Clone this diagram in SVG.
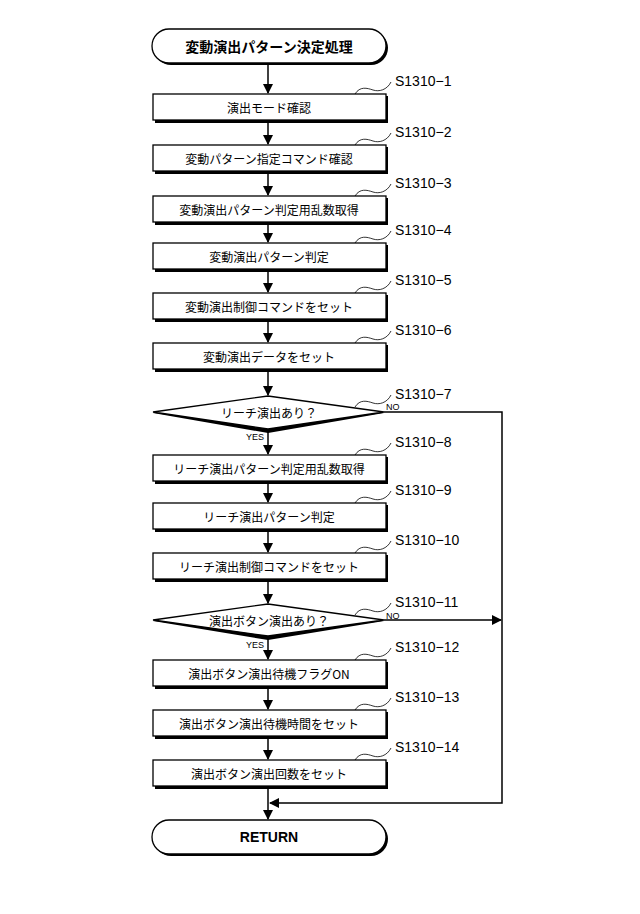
<svg xmlns="http://www.w3.org/2000/svg" width="640" height="914" viewBox="0 0 640 914">
<defs>
<style>
.b{fill:#fff;stroke:#000;stroke-width:1.3}
.s{fill:#000}
.t{font-family:"Noto Sans CJK JP","Liberation Sans",sans-serif;font-size:12px;text-anchor:middle;dominant-baseline:central}
.l{font-family:"Liberation Sans","Noto Sans CJK JP",sans-serif;font-size:14px}
.y{font-family:"Liberation Sans",sans-serif;font-size:9px}
.c{fill:none;stroke:#000;stroke-width:1.5}
.q{fill:none;stroke:#000;stroke-width:0.8}
</style>
<marker id="a" markerWidth="10" markerHeight="10" refX="9" refY="5" orient="auto" markerUnits="userSpaceOnUse"><path d="M0,0 L10,5 L0,10 z"/></marker>
</defs>
<rect width="640" height="914" fill="#fff"/>
<g id="connectors">
<line class="c" x1="268" y1="64" x2="268" y2="93" marker-end="url(#a)"/>
<line class="c" x1="268" y1="122" x2="268" y2="144" marker-end="url(#a)"/>
<line class="c" x1="268" y1="173" x2="268" y2="195" marker-end="url(#a)"/>
<line class="c" x1="268" y1="223" x2="268" y2="242" marker-end="url(#a)"/>
<line class="c" x1="268" y1="270" x2="268" y2="292" marker-end="url(#a)"/>
<line class="c" x1="268" y1="321" x2="268" y2="342" marker-end="url(#a)"/>
<line class="c" x1="268" y1="371" x2="268" y2="395" marker-end="url(#a)"/>
<line class="c" x1="268" y1="431" x2="268" y2="454" marker-end="url(#a)"/>
<line class="c" x1="268" y1="482" x2="268" y2="502" marker-end="url(#a)"/>
<line class="c" x1="268" y1="530" x2="268" y2="552" marker-end="url(#a)"/>
<line class="c" x1="268" y1="580" x2="268" y2="603" marker-end="url(#a)"/>
<line class="c" x1="268" y1="637" x2="268" y2="659" marker-end="url(#a)"/>
<line class="c" x1="268" y1="687" x2="268" y2="709" marker-end="url(#a)"/>
<line class="c" x1="268" y1="737" x2="268" y2="759" marker-end="url(#a)"/>
<line class="c" x1="268" y1="788" x2="268" y2="819" marker-end="url(#a)"/>
<polyline class="c" points="384,412 502,412 502,803 270,803" marker-end="url(#a)"/>
<line class="c" x1="384" y1="620" x2="501" y2="620" marker-end="url(#a)"/>
<text class="y" x="386" y="410">NO</text>
<text class="y" x="386" y="619">NO</text>
<text class="y" x="246" y="440">YES</text>
<text class="y" x="246" y="648">YES</text>
</g>
<g id="start"><rect class="s" x="154" y="31" width="234" height="34" rx="17"/><rect class="b" x="152" y="29" width="234" height="34" rx="17"/><text class="t" x="269" y="46" style="font-size:14px;font-weight:bold">変動演出パターン決定処理</text></g>
<g id="n1"><rect class="s" x="155" y="96" width="233" height="27"/><rect class="b" x="153" y="94" width="233" height="26"/><text class="t" x="269" y="107">演出モード確認</text></g>
<g id="n2"><rect class="s" x="155" y="147" width="233" height="27"/><rect class="b" x="153" y="145" width="233" height="26"/><text class="t" x="269" y="158">変動パターン指定コマンド確認</text></g>
<g id="n3"><rect class="s" x="155" y="198" width="233" height="27"/><rect class="b" x="153" y="196" width="233" height="26"/><text class="t" x="269" y="209">変動演出パターン判定用乱数取得</text></g>
<g id="n4"><rect class="s" x="155" y="245" width="233" height="27"/><rect class="b" x="153" y="243" width="233" height="26"/><text class="t" x="269" y="256">変動演出パターン判定</text></g>
<g id="n5"><rect class="s" x="155" y="295" width="233" height="27"/><rect class="b" x="153" y="293" width="233" height="26"/><text class="t" x="269" y="306">変動演出制御コマンドをセット</text></g>
<g id="n6"><rect class="s" x="155" y="345" width="233" height="27"/><rect class="b" x="153" y="343" width="233" height="26"/><text class="t" x="269" y="356">変動演出データをセット</text></g>
<g id="n7"><polygon class="s" points="153,413 268,398 384,413 268,433"/><polygon class="b" points="153,412 268,396 384,412 268,429"/><text class="t" x="269" y="412">リーチ演出あり？</text></g>
<g id="n8"><rect class="s" x="155" y="457" width="233" height="27"/><rect class="b" x="153" y="455" width="233" height="26"/><text class="t" x="269" y="468">リーチ演出パターン判定用乱数取得</text></g>
<g id="n9"><rect class="s" x="155" y="505" width="233" height="27"/><rect class="b" x="153" y="503" width="233" height="26"/><text class="t" x="269" y="516">リーチ演出パターン判定</text></g>
<g id="n10"><rect class="s" x="155" y="555" width="233" height="27"/><rect class="b" x="153" y="553" width="233" height="26"/><text class="t" x="269" y="566">リーチ演出制御コマンドをセット</text></g>
<g id="n11"><polygon class="s" points="153,621 268,606 384,621 268,640"/><polygon class="b" points="153,620 268,604 384,620 268,636"/><text class="t" x="269" y="620">演出ボタン演出あり？</text></g>
<g id="n12"><rect class="s" x="155" y="662" width="233" height="27"/><rect class="b" x="153" y="660" width="233" height="26"/><text class="t" x="269" y="673">演出ボタン演出待機フラグON</text></g>
<g id="n13"><rect class="s" x="155" y="712" width="233" height="27"/><rect class="b" x="153" y="710" width="233" height="26"/><text class="t" x="269" y="723">演出ボタン演出待機時間をセット</text></g>
<g id="n14"><rect class="s" x="155" y="762" width="233" height="27"/><rect class="b" x="153" y="760" width="233" height="26"/><text class="t" x="269" y="773">演出ボタン演出回数をセット</text></g>
<g id="end"><rect class="s" x="154" y="822" width="234" height="34" rx="17"/><rect class="b" x="152" y="820" width="234" height="34" rx="17"/><text class="t" x="269" y="837" style="font-family:'Liberation Sans',sans-serif;font-size:14px;font-weight:bold">RETURN</text></g>
<g id="labels">
<path class="q" d="M355,94 c5,-8 12,-6 18,-4 s14,0 18,-8"/><text class="l" x="395" y="86">S1310−1</text>
<path class="q" d="M355,145 c5,-8 12,-6 18,-4 s14,0 18,-8"/><text class="l" x="395" y="137">S1310−2</text>
<path class="q" d="M355,196 c5,-8 12,-6 18,-4 s14,0 18,-8"/><text class="l" x="395" y="188">S1310−3</text>
<path class="q" d="M355,243 c5,-8 12,-6 18,-4 s14,0 18,-8"/><text class="l" x="395" y="235">S1310−4</text>
<path class="q" d="M355,293 c5,-8 12,-6 18,-4 s14,0 18,-8"/><text class="l" x="395" y="285">S1310−5</text>
<path class="q" d="M355,343 c5,-8 12,-6 18,-4 s14,0 18,-8"/><text class="l" x="395" y="335">S1310−6</text>
<path class="q" d="M355,407 c5,-8 12,-6 18,-4 s14,0 18,-8"/><text class="l" x="395" y="399">S1310−7</text>
<path class="q" d="M355,455 c5,-8 12,-6 18,-4 s14,0 18,-8"/><text class="l" x="395" y="447">S1310−8</text>
<path class="q" d="M355,503 c5,-8 12,-6 18,-4 s14,0 18,-8"/><text class="l" x="395" y="495">S1310−9</text>
<path class="q" d="M355,553 c5,-8 12,-6 18,-4 s14,0 18,-8"/><text class="l" x="395" y="545">S1310−10</text>
<path class="q" d="M355,615 c5,-8 12,-6 18,-4 s14,0 18,-8"/><text class="l" x="395" y="607">S1310−11</text>
<path class="q" d="M355,660 c5,-8 12,-6 18,-4 s14,0 18,-8"/><text class="l" x="395" y="652">S1310−12</text>
<path class="q" d="M355,710 c5,-8 12,-6 18,-4 s14,0 18,-8"/><text class="l" x="395" y="702">S1310−13</text>
<path class="q" d="M355,760 c5,-8 12,-6 18,-4 s14,0 18,-8"/><text class="l" x="395" y="752">S1310−14</text>
</g>
</svg>
